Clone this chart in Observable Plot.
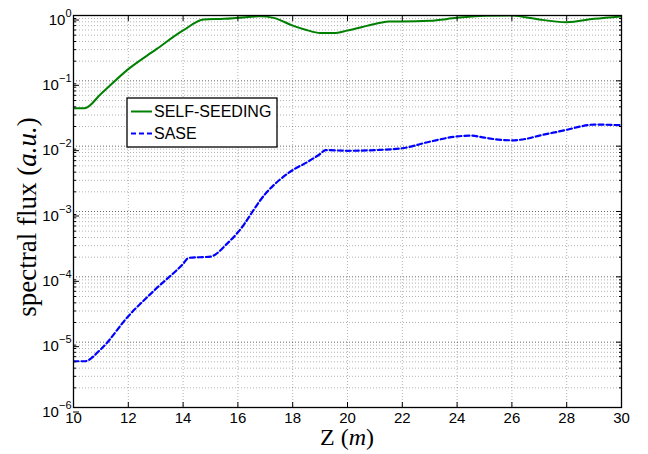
<!DOCTYPE html>
<html><head><meta charset="utf-8">
<script src="https://cdn.jsdelivr.net/npm/d3@7"></script>
<script src="https://cdn.jsdelivr.net/npm/@observablehq/plot@0.6"></script>
<style>
body{margin:0;background:#fff;}
#wrap{width:648px;height:454px;}
</style></head>
<body><div id="wrap"></div>
<script>
// ---- data ----
const zSelf = [10, 10.4, 11, 12, 13, 14, 14.75, 15.5, 16, 16.8, 17.3, 18, 18.5, 19, 19.5, 20, 21, 21.5, 22, 23, 24, 25, 26, 26.5, 27, 28, 29, 30];
const fluxSelf = [0.038, 0.038, 0.063, 0.151, 0.30, 0.59, 0.87, 0.89, 0.92, 0.97, 0.92, 0.70, 0.60, 0.54, 0.54, 0.59, 0.74, 0.81, 0.81, 0.83, 0.92, 0.99, 1.0, 0.94, 0.87, 0.79, 0.89, 0.97];
const zSase = [10, 10.4, 11, 12, 13, 14, 14.2, 15, 15.6, 16, 17, 18, 18.5, 19, 19.2, 20, 21, 22, 23, 24, 24.5, 25, 25.5, 26, 26.5, 27, 28, 28.5, 29, 30];
const fluxSase = [5.1e-6, 5.1e-6, 7.8e-6, 2.5e-5, 6.5e-5, 1.58e-4, 1.95e-4, 2.04e-4, 3.2e-4, 4.8e-4, 1.86e-3, 4.3e-3, 5.6e-3, 7.6e-3, 8.7e-3, 8.5e-3, 8.7e-3, 9.3e-3, 1.17e-2, 1.41e-2, 1.45e-2, 1.35e-2, 1.26e-2, 1.23e-2, 1.29e-2, 1.45e-2, 1.78e-2, 2.0e-2, 2.14e-2, 2.09e-2];
const xTicks = [10, 12, 14, 16, 18, 20, 22, 24, 26, 28, 30];
const yExponents = [0, -1, -2, -3, -4, -5, -6];
const seriesNames = ["SELF-SEEDING", "SASE"];
const seriesColors = ["#008000", "#0000ff"];
const xLabel = "Z";
const xUnit = "m";
const yLabel = "spectral flux";
const yUnit = "a.u.";

const yDecades = yExponents.map(e => Math.pow(10, e));
const yMinor = [];
for (const e of yExponents.slice(1)) for (let m = 2; m <= 9; m++) yMinor.push(m * Math.pow(10, e));

const selfData = zSelf.map((z, i) => ({z, f: fluxSelf[i]}));
const saseData = zSase.map((z, i) => ({z, f: fluxSase[i]}));

const mL = 73, mR = 27, mT = 15, mB = 47, W = 648, H = 454;
const grid = {stroke: "#000", strokeDasharray: "1,2", strokeWidth: 1};

const plot = Plot.plot({
  width: W, height: H,
  marginLeft: mL, marginRight: mR, marginTop: mT, marginBottom: mB,
  style: {fontFamily: "'Liberation Sans', Arial, sans-serif", fontSize: "15px", background: "#fff", color: "#000", overflow: "visible"},
  x: {domain: [10, 30]},
  y: {type: "log", domain: [1e-6, 1]},
  marks: [
    Plot.ruleX(xTicks.slice(1, -1), {...grid, strokeOpacity: 0.3}),
    Plot.ruleY(yMinor, {...grid, strokeOpacity: 0.3}),
    Plot.ruleY(yDecades.slice(1, -1), {...grid, strokeOpacity: 0.6}),
    Plot.line(selfData, {x: "z", y: "f", stroke: seriesColors[0], strokeWidth: 2, curve: "monotone-x", clip: true}),
    Plot.line(saseData, {x: "z", y: "f", stroke: seriesColors[1], strokeWidth: 2.2, strokeDasharray: "5,3", curve: "monotone-x", clip: true}),
    Plot.frame({stroke: "#000", strokeWidth: 1.3}),
    Plot.axisX({anchor: "bottom", ticks: xTicks, tickSize: -5, tickPadding: 9.4, label: null, tickFormat: d => String(d)}),
    Plot.axisX({anchor: "top", ticks: xTicks, tickSize: -5, label: null, tickFormat: () => null}),
    Plot.axisY({anchor: "left", ticks: yDecades, tickSize: -6, tickPadding: 8, dy: 4.5, label: null, tickFormat: d => "10^" + Math.round(Math.log10(d))}),
    Plot.axisY({anchor: "left", ticks: yMinor, tickSize: -3, label: null, tickFormat: () => null}),
    Plot.axisY({anchor: "right", ticks: yDecades, tickSize: -6, label: null, tickFormat: () => null}),
    Plot.axisY({anchor: "right", ticks: yMinor, tickSize: -3, label: null, tickFormat: () => null})
  ]
});
document.getElementById("wrap").appendChild(plot);

const svg = d3.select(plot);
// superscript exponents on y tick labels
svg.selectAll('g[aria-label="y-axis tick label"] text').each(function () {
  const t = d3.select(this).text();
  if (!t.includes("^")) return;
  const [base, ex] = t.split("^");
  const el = d3.select(this);
  el.text(null);
  el.append("tspan").text(base);
  el.append("tspan").attr("dy", -8).attr("font-size", 11).text(ex.replace("-", "\u2212"));
});

// axis titles
const cx = mL + (W - mL - mR) / 2;
const cy = mT + (H - mT - mB) / 2;
const serif = "'Liberation Serif', 'DejaVu Serif', serif";
const xt = svg.append("text").attr("x", cx).attr("y", 445).attr("text-anchor", "middle")
  .attr("font-family", serif).attr("font-size", 24).attr("fill", "#000");
xt.append("tspan").text(xLabel + " (");
xt.append("tspan").attr("font-style", "italic").text(xUnit);
xt.append("tspan").text(")");
const yt = svg.append("text").attr("transform", `translate(36,${cy + 6}) rotate(-90)`).attr("text-anchor", "middle")
  .attr("font-family", serif).attr("font-size", 27).attr("fill", "#000");
yt.append("tspan").text(yLabel + " (");
yt.append("tspan").attr("font-style", "italic").text(yUnit);
yt.append("tspan").text(")");

// legend
const lg = svg.append("g").attr("font-family", "'Liberation Sans', Arial, sans-serif").attr("font-size", 16).attr("text-anchor", "start");
lg.append("rect").attr("x", 127).attr("y", 98).attr("width", 150).attr("height", 49)
  .attr("fill", "#fff").attr("stroke", "#000").attr("stroke-width", 1.3);
seriesNames.forEach((name, i) => {
  const y = 111.5 + i * 22;
  lg.append("line").attr("x1", 131).attr("x2", 152).attr("y1", y).attr("y2", y)
    .attr("stroke", seriesColors[i]).attr("stroke-width", i === 1 ? 2.2 : 2)
    .attr("stroke-dasharray", i === 1 ? "5,3" : null);
  lg.append("text").attr("x", 154).attr("y", y + 5.8).attr("text-anchor", "start").attr("fill", "#000").text(name);
});
</script></body></html>
